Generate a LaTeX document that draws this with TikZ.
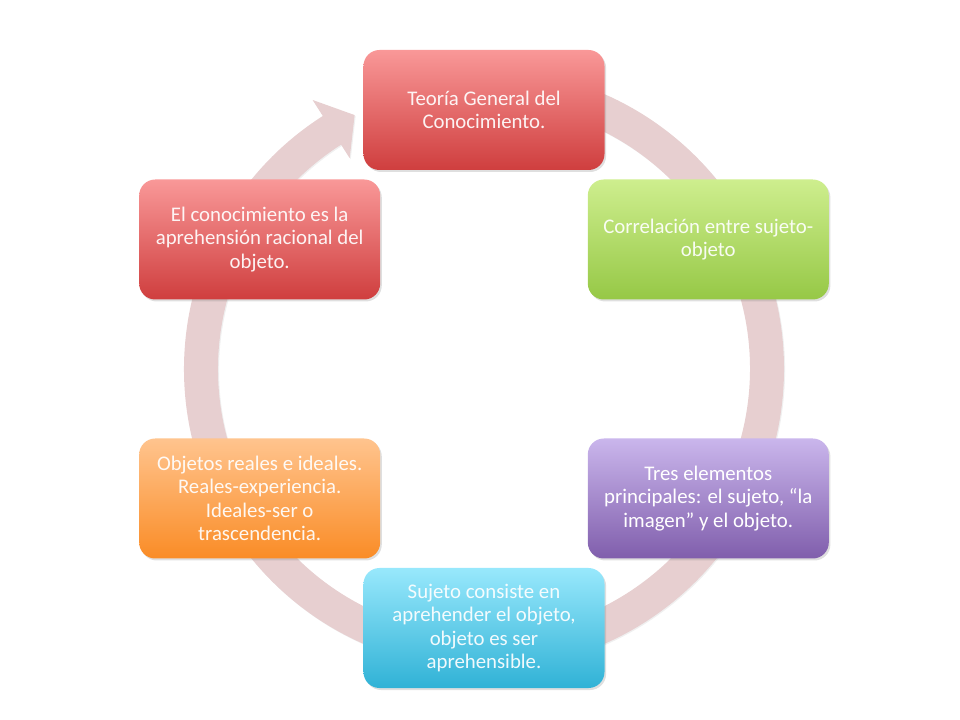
\documentclass[tikz,border=0pt]{standalone}
\usepackage{fontspec}
\setmainfont{Carlito}
\usepackage{tikz}
\usetikzlibrary{shadows}
\definecolor{ringcol}{RGB}{231,207,208}
\definecolor{redtop}{RGB}{249,152,152}
\definecolor{redbot}{RGB}{207,62,62}
\definecolor{greentop}{RGB}{206,238,142}
\definecolor{greenbot}{RGB}{150,200,70}
\definecolor{purpletop}{RGB}{202,182,236}
\definecolor{purplebot}{RGB}{128,94,172}
\definecolor{cyantop}{RGB}{152,232,252}
\definecolor{cyanbot}{RGB}{48,178,214}
\definecolor{orangetop}{RGB}{255,196,142}
\definecolor{orangebot}{RGB}{250,140,38}

\begin{document}
\begin{tikzpicture}[x=0.75pt, y=0.75pt,
	block/.style={rounded corners=12pt, minimum width=180.75pt,
	minimum height=90pt, inner sep=3pt, align=center,
	text=white, text opacity=0.92,
	font=\fontsize{15.6}{17.6}\selectfont,
	drop shadow={opacity=0.25, shadow xshift=1.2pt, shadow yshift=-1.5pt}},
	redblock/.style={block, top color=redtop, bottom color=redbot},
	greenblock/.style={block, top color=greentop, bottom color=greenbot},
	purpleblock/.style={block, top color=purpletop, bottom color=purplebot},
	cyanblock/.style={block, top color=cyantop, bottom color=cyanbot},
	orangeblock/.style={block, top color=orangetop, bottom color=orangebot}]
	\useasboundingbox (-484,-351) rectangle (476,369);
	%% The cycle arrow
	\fill [ringcol, drop shadow={opacity=0.12, shadow xshift=0.8pt, shadow yshift=-0.8pt}]
	(85:300) arc[start angle=85, end angle=-237.5, radius=300]
	-- (-237.5:319) -- (-243:285) -- (-237.5:250) -- (-237.5:266)
	arc[start angle=-237.5, end angle=85, radius=266] -- cycle;
	%% Blocks
	\node [redblock] (B_1) at (90:259) {Teoría General del\\Conocimiento.};
	\node [greenblock] (B_2) at (30:259) {Correlación entre sujeto-\\objeto};
	\node [purpleblock, text opacity=1] (B_3) at (-30:259)
	{Tres elementos\\principales: el sujeto, “la\\imagen” y el objeto.};
	\node [cyanblock] (B_4) at (-90:259)
	{Sujeto consiste en\\aprehender el objeto,\\objeto es ser\\aprehensible.};
	\node [orangeblock] (B_5) at (-150:259)
	{Objetos reales e ideales.\\Reales-experiencia.\\Ideales-ser o\\trascendencia.};
	\node [redblock] (B_6) at (150:259)
	{El conocimiento es la\\aprehensión racional del\\objeto.};
\end{tikzpicture}
\end{document}
